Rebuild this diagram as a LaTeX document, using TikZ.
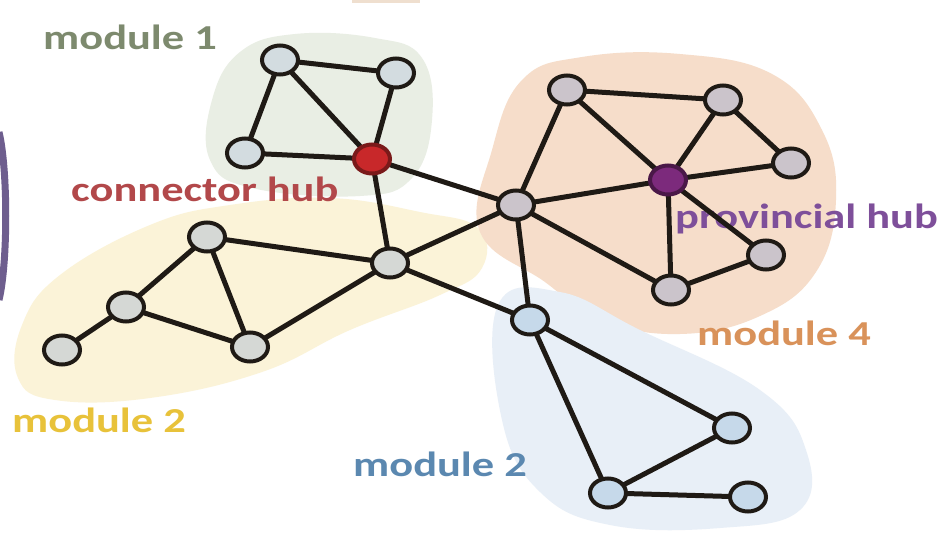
\documentclass[tikz,border=0pt]{standalone}
\usepackage{fontspec}
\setmainfont{Carlito}
\usetikzlibrary{shapes.geometric}
\pgfdeclarelayer{blobs}
\pgfdeclarelayer{labels}
\pgfdeclarelayer{edges}
\pgfsetlayers{blobs,labels,edges,main}
\definecolor{edgec}{HTML}{1F1A15}
\definecolor{mOne}{HTML}{E9EEE4}
\definecolor{mTwo}{HTML}{FBF3D8}
\definecolor{mFour}{HTML}{F6DDCA}
\definecolor{mBlue}{HTML}{E8EFF7}
\definecolor{tOne}{HTML}{7D8A6E}
\definecolor{tConn}{HTML}{B2484A}
\definecolor{tProv}{HTML}{7E4F9A}
\definecolor{tFour}{HTML}{D9925A}
\definecolor{tTwo}{HTML}{E8C23A}
\definecolor{tBlue}{HTML}{5B88B0}
\definecolor{fGreen}{HTML}{D3DCE0}
\definecolor{fGray}{HTML}{D5D8D5}
\definecolor{fMauve}{HTML}{CBC4CB}
\definecolor{fBlue}{HTML}{C6D9EA}
\definecolor{fRed}{HTML}{C8282A}
\definecolor{bRed}{HTML}{7A1A1A}
\definecolor{fPurple}{HTML}{7C2A7C}
\definecolor{bPurple}{HTML}{4A1848}
\definecolor{bar}{HTML}{6E5E8E}
\newcommand{\widetext}[1]{\scalebox{1.27}[1]{#1}}
\tikzset{
  vtx/.style={ellipse, draw=edgec, line width=4pt, minimum width=36pt, minimum height=29pt, inner sep=0pt},
  vgreen/.style={vtx, fill=fGreen},
  vgray/.style={vtx, fill=fGray},
  vmauve/.style={vtx, fill=fMauve},
  vblue/.style={vtx, fill=fBlue},
  lbl/.style={font=\fontsize{35}{40}\selectfont\bfseries, inner sep=0pt, anchor=base west},
  edge/.style={draw=edgec, line width=5pt},
}
\begin{document}
\begin{tikzpicture}[x=1pt,y=-1pt]
\useasboundingbox (0,0) rectangle (943,533);
% module blobs
\begin{pgfonlayer}{blobs}
\fill[white] (0,0) rectangle (943,533);
\fill[mOne] plot[smooth cycle, tension=0.7] coordinates {(212,100) (240,52) (295,34) (375,38) (422,58) (432,120) (412,178) (360,196) (252,188) (210,160)};
\fill[mTwo] plot[smooth cycle, tension=0.7] coordinates {(22,325) (60,275) (150,225) (230,205) (330,198) (420,212) (478,228) (482,268) (440,295) (350,330) (262,372) (150,398) (55,400) (18,378)};
\fill[mFour] plot[smooth cycle, tension=0.7] coordinates {(492,150) (522,80) (582,57) (680,54) (772,74) (822,130) (836,200) (816,272) (760,316) (680,334) (600,320) (545,282) (480,232)};
\fill[mBlue] plot[smooth cycle, tension=0.7] coordinates {(498,305) (560,292) (640,330) (760,390) (806,450) (800,510) (720,528) (610,525) (540,492) (502,420)};
% fragments at the edges
\draw[line width=7pt, draw=bar] (-1,132) .. controls (8,170) and (8,262) .. (-1,300);
\fill[brown!25!white] (352,0) rectangle (420,3);
\end{pgfonlayer}
% labels
\begin{pgfonlayer}{labels}
\node[lbl, text=tOne]  (l1) at (43,49)   {\widetext{module 1}};
\node[lbl, text=tConn] (l2) at (71,201)  {\widetext{connector hub}};
\node[lbl, text=tProv] (l3) at (675,228) {\widetext{provincial hub}};
\node[lbl, text=tFour] (l4) at (697,345) {\widetext{module 4}};
\node[lbl, text=tTwo]  (l5) at (12,432)  {\widetext{module 2}};
\node[lbl, text=tBlue] (l6) at (353,476) {\widetext{module 2}};
\end{pgfonlayer}
% nodes
\node[vgreen] (a1) at (280,60) {};
\node[vgreen] (a2) at (396,73) {};
\node[vgreen] (a3) at (245,153) {};
\node[vtx, fill=fRed, draw=bRed] (ch) at (372,159) {};
\node[vgray] (b1) at (207,237) {};
\node[vgray] (b2) at (126,307) {};
\node[vgray] (b3) at (62,350) {};
\node[vgray] (b4) at (250,347) {};
\node[vgray] (c)  at (390,263) {};
\node[vmauve] (m)  at (516,205) {};
\node[vmauve] (d1) at (567,90) {};
\node[vmauve] (d2) at (723,100) {};
\node[vmauve] (d3) at (791,163) {};
\node[vtx, fill=fPurple, draw=bPurple] (ph) at (668,180) {};
\node[vmauve] (d4) at (766,255) {};
\node[vmauve] (d5) at (671,290) {};
\node[vblue] (e1) at (530,320) {};
\node[vblue] (e2) at (732,428) {};
\node[vblue] (e3) at (608,493) {};
\node[vblue] (e4) at (748,497) {};
% edges
\begin{pgfonlayer}{edges}
\foreach \u/\v in {a1/a2,a1/a3,a1/ch,a2/ch,a3/ch,ch/c,ch/m,c/m,c/b1,c/b4,c/e1,
  b1/b2,b1/b4,b2/b3,b2/b4,m/d1,m/ph,m/d5,m/e1,d1/d2,d1/ph,d2/ph,d2/d3,ph/d3,ph/d4,ph/d5,d4/d5,
  e1/e2,e1/e3,e2/e3,e3/e4}
  \draw[edge] (\u.center) -- (\v.center);
\end{pgfonlayer}
\end{tikzpicture}
\end{document}
